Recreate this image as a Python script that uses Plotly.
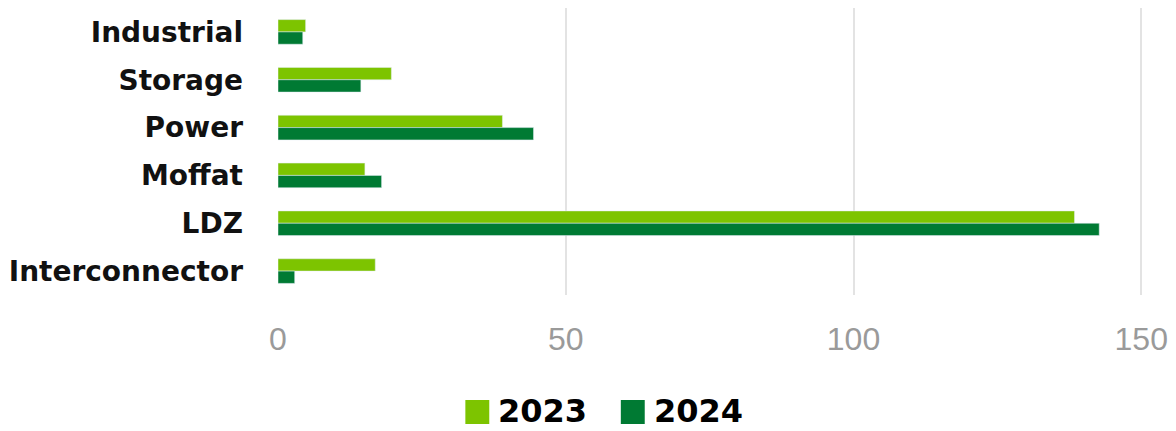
import plotly.graph_objects as go

# Flow categories, top to bottom
categories = ["Industrial", "Storage", "Power", "Moffat", "LDZ", "Interconnector"]
values_2023 = [4.8, 19.7, 39.0, 15.1, 138.4, 16.9]
values_2024 = [4.3, 14.4, 44.4, 18.0, 142.7, 2.9]
series_names = ["2023", "2024"]
x_ticks = [0, 50, 100, 150]

COLOR_2023 = "#7DC400"
COLOR_2024 = "#007A33"
LABEL_FONT = "DejaVu Sans"

fig = go.Figure()
fig.add_trace(go.Bar(y=categories, x=values_2023, name=series_names[0],
                     orientation="h", marker_color=COLOR_2023, showlegend=False))
fig.add_trace(go.Bar(y=categories, x=values_2024, name=series_names[1],
                     orientation="h", marker_color=COLOR_2024, showlegend=False))

# plot-area geometry (pixels) used to place the legend swatches
L, R, T, B = 278, 26, 8, 136
W, H = 1176, 431
pw, ph = W - L - R, H - T - B


def px_x(p):
    return (p - L) / pw


def px_y(p):
    return (H - B - p) / ph


legend_items = [(series_names[0], COLOR_2023, 466), (series_names[1], COLOR_2024, 622)]
shapes, annotations = [], []
for name, color, x0 in legend_items:
    shapes.append(dict(type="rect", xref="paper", yref="paper",
                       x0=px_x(x0), x1=px_x(x0 + 24), y0=px_y(400), y1=px_y(424),
                       fillcolor=color, line=dict(width=0)))
    annotations.append(dict(text=f"<b>{name}</b>", xref="paper", yref="paper",
                            x=px_x(x0 + 32), y=px_y(411), xanchor="left", yanchor="middle",
                            showarrow=False, borderpad=0,
                            font=dict(family=LABEL_FONT, size=32, color="#000000")))

fig.update_layout(
    width=W, height=H,
    margin=dict(l=L, r=R, t=T, b=B),
    barmode="group",
    bargap=0.485,
    bargroupgap=0,
    plot_bgcolor="white",
    paper_bgcolor="white",
    shapes=shapes,
    annotations=annotations,
    xaxis=dict(range=[0, 151], tickvals=x_ticks, showgrid=True,
               gridcolor="#E3E3E3", gridwidth=2, zeroline=False, showline=False,
               ticks="", ticklabelstandoff=22,
               tickfont=dict(family="Liberation Sans", size=32, color="#9A9A9A")),
    yaxis=dict(autorange="reversed", showgrid=False, zeroline=False, showline=False,
               ticks="", ticklabelstandoff=34,
               tickfont=dict(family=LABEL_FONT, size=28, color="#111111", weight="bold")),
)

fig.write_html("out.html")
